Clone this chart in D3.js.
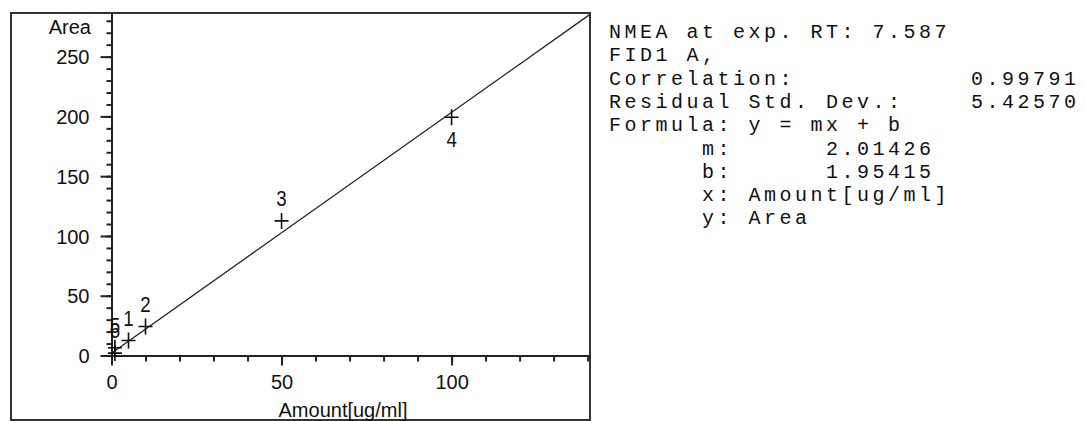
<!DOCTYPE html>
<html>
<head>
<meta charset="utf-8">
<script src="https://cdn.jsdelivr.net/npm/d3@7"></script>
<style>
  html, body { margin: 0; padding: 0; background: #fff; }
  svg { display: block; }
</style>
</head>
<body>
<svg id="chart" width="1086" height="421"></svg>
<script>
// Calibration points: level label, amount [ug/ml], measured area
const levelLabels = ["1", "2", "3", "4", "5", "6"];
const amounts = [5, 10, 50, 100, 1, 1];
const areas = [12.5, 24.2, 112.6, 199.3, 6.5, 2.0];

// Linear fit y = m*x + b
const slope = 2.01426;
const intercept = 1.95415;

// Axis ticks
const yMajorTicks = [0, 50, 100, 150, 200, 250];
const xMajorTicks = [0, 50, 100];
const yMinorTicks = d3.range(0, 290, 10);
const xMinorTicks = d3.range(0, 150, 10);

// Report text beside the plot
const reportLines = [
  "NMEA at exp. RT: 7.587",
  "FID1 A,",
  "Correlation:",
  "Residual Std. Dev.:",
  "Formula: y = mx + b"
];
const reportValues = ["", "", "0.99791", "5.42570", ""];
const coefLines = ["m:", "b:", "x: Amount[ug/ml]", "y: Area"];
const coefValues = ["2.01426", "1.95415", "", ""];

const svg = d3.select("#chart");
const ink = "#222";
const sans = "'Liberation Sans', Arial, sans-serif";
const mono = "'Liberation Mono', 'Courier New', monospace";

const x = d3.scaleLinear().domain([0, 140.7]).range([111.5, 590]);
const y = d3.scaleLinear().domain([0, 286.5]).range([355.5, 13]);

// Outer frame
svg.append("rect")
  .attr("x", 11).attr("y", 13)
  .attr("width", 579).attr("height", 407)
  .attr("fill", "none").attr("stroke", "#333").attr("stroke-width", 2);

// Minor ticks
const yMinor = svg.append("g").attr("transform", `translate(${x(0)},0)`)
  .call(d3.axisLeft(y).tickValues(yMinorTicks).tickSize(5).tickSizeOuter(0).tickFormat(""));
const xMinor = svg.append("g").attr("transform", `translate(0,${y(0)})`)
  .call(d3.axisBottom(x).tickValues(xMinorTicks).tickSize(6).tickSizeOuter(0).tickFormat(""));

// Major ticks with labels
const yAxis = svg.append("g").attr("transform", `translate(${x(0)},0)`)
  .call(d3.axisLeft(y).tickValues(yMajorTicks).tickSize(11).tickPadding(11).tickSizeOuter(0));
const xAxis = svg.append("g").attr("transform", `translate(0,${y(0)})`)
  .call(d3.axisBottom(x).tickValues(xMajorTicks).tickSize(10).tickPadding(9).tickSizeOuter(0));

[yMinor, xMinor, yAxis, xAxis].forEach(g => {
  g.selectAll("line").attr("stroke", ink).attr("stroke-width", 2);
  g.select(".domain").attr("stroke", ink).attr("stroke-width", 2);
  g.selectAll("text").attr("fill", "#111")
    .style("font-family", sans).style("font-size", "20px");
});
yAxis.selectAll("text").attr("dy", "0.36em");
xAxis.selectAll("text").attr("dy", "0.72em");

// Axis titles
svg.append("text")
  .attr("x", 91).attr("y", 34).attr("text-anchor", "end")
  .style("font-family", sans).style("font-size", "20px").attr("fill", "#111")
  .text("Area");
svg.append("text")
  .attr("x", 343).attr("y", 417).attr("text-anchor", "middle")
  .style("font-family", sans).style("font-size", "20px").attr("fill", "#111")
  .text("Amount[ug/ml]");

// Fitted calibration line, clipped to the plot area
svg.append("clipPath").attr("id", "plotClip")
  .append("rect")
  .attr("x", x(0)).attr("y", y.range()[1])
  .attr("width", x.range()[1] - x(0)).attr("height", y(0) - y.range()[1]);

const fitDomain = x.domain();
svg.append("path")
  .datum(fitDomain.map(v => [v, slope * v + intercept]))
  .attr("clip-path", "url(#plotClip)")
  .attr("d", d3.line().x(d => x(d[0])).y(d => y(d[1])))
  .attr("fill", "none").attr("stroke", ink).attr("stroke-width", 1.3);

// Calibration points
const points = levelLabels.map((lab, i) => ({ lab, amt: amounts[i], area: areas[i] }));
const labelBelow = new Set(["4"]);

const pts = svg.append("g").selectAll("g").data(points).join("g")
  .attr("transform", d => `translate(${x(d.amt)},${y(d.area)})`);
pts.append("path")
  .attr("d", "M-7,0H7M0,-8V8")
  .attr("stroke", "#111").attr("stroke-width", 1.6).attr("fill", "none");
pts.append("text")
  .attr("transform", d => `translate(0,${labelBelow.has(d.lab) ? 30 : -15}) scale(0.85,1)`)
  .attr("text-anchor", "middle")
  .style("font-family", sans).style("font-size", "22px").attr("fill", "#111")
  .text(d => d.lab);

// Report block
const charW = 15.5;
const textX = 609;
const valueX = 971;
const rowY0 = 38;
const rowH = 23.3;

const report = svg.append("g")
  .style("font-family", mono).style("font-size", "20px")
  .style("letter-spacing", "3.5px").attr("fill", "#111");

reportLines.forEach((t, i) => {
  report.append("text").attr("x", textX).attr("y", rowY0 + i * rowH).text(t);
  if (reportValues[i]) {
    report.append("text").attr("x", valueX).attr("y", rowY0 + i * rowH).text(reportValues[i]);
  }
});
coefLines.forEach((t, i) => {
  const row = reportLines.length + i;
  report.append("text").attr("x", textX + 6 * charW).attr("y", rowY0 + row * rowH).text(t);
  if (coefValues[i]) {
    report.append("text").attr("x", textX + 14 * charW).attr("y", rowY0 + row * rowH).text(coefValues[i]);
  }
});
</script>
</body>
</html>
